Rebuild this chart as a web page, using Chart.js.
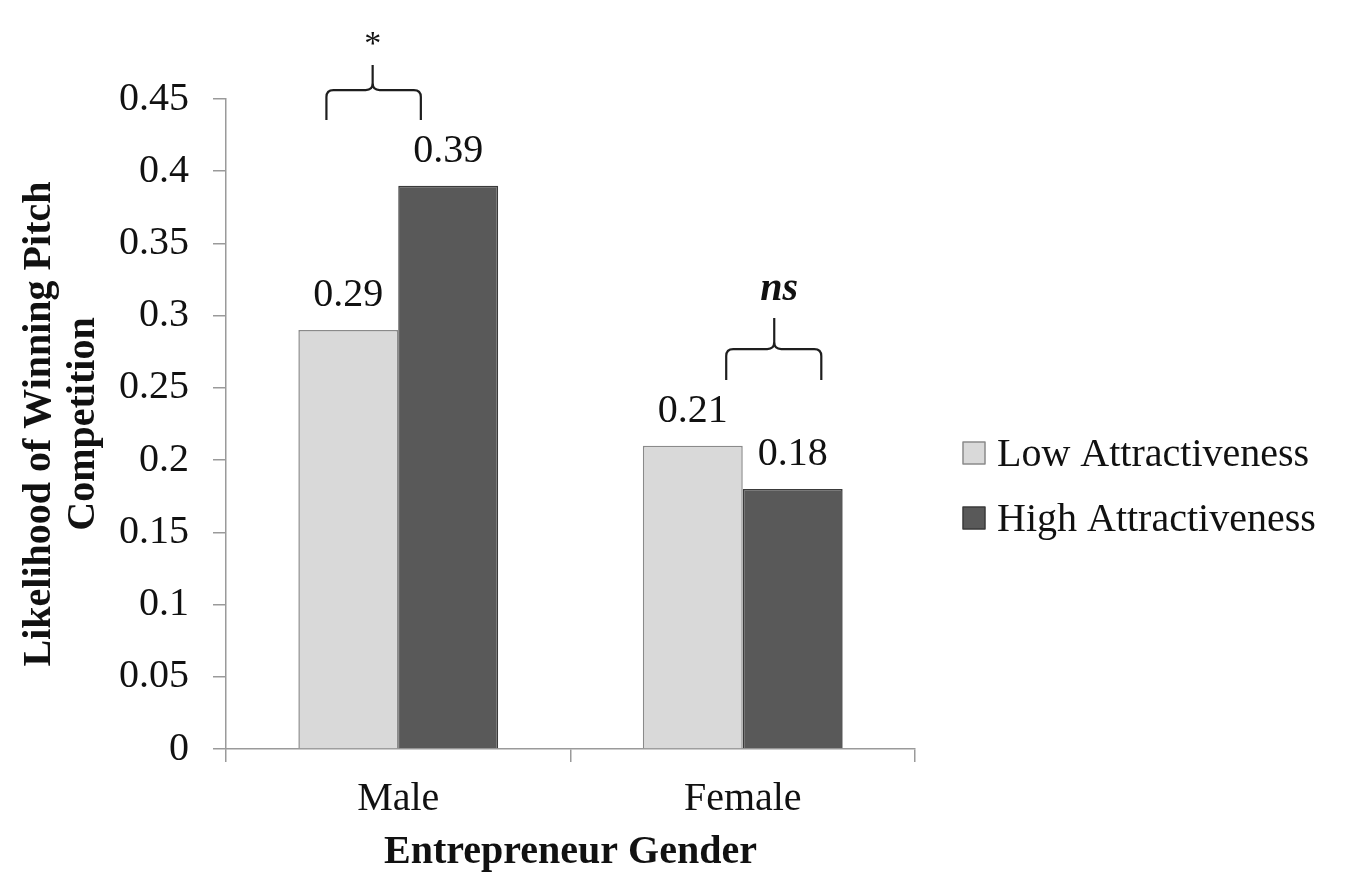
<!DOCTYPE html>
<html>
<head>
<meta charset="utf-8">
<script src="https://cdn.jsdelivr.net/npm/chart.js@4.4.1/dist/chart.umd.min.js"></script>
<style>
  html, body { margin: 0; padding: 0; background: #ffffff; }
  #wrap { width: 1345px; height: 894px; }
</style>
</head>
<body>
<div id="wrap"><canvas id="c" width="1345" height="894"></canvas></div>
<script>
// ---------- data ----------
const categories = ['Male', 'Female'];
const seriesNames = ['Low Attractiveness', 'High Attractiveness'];
const lowValues = [0.29, 0.21];
const highValues = [0.39, 0.18];
const yTickLabels = ['0', '0.05', '0.1', '0.15', '0.2', '0.25', '0.3', '0.35', '0.4', '0.45'];
const significanceLabels = ['*', 'ns'];
const xTitle = 'Entrepreneur Gender';
const yTitle = ['Likelihood of Winning Pitch', 'Competition'];

// ---------- layout / style ----------
const FONT = '"Liberation Serif", "Times New Roman", serif';
const W = 1345, H = 894;
const PLOT_TOP = 99, PLOT_LEFT = 226, PLOT_RIGHT = 915, PLOT_BOTTOM = 749;
const AXIS_COLOR = '#9a9a9a';
const legendLayout = { x: 963, y0: 453, rowGap: 65, box: 22, textGap: 12, size: 40 };

// brace geometry: x as offsets from category centre (fraction of category width), y in value units
const braceLayout = [
  { x1: -0.2085, x2: 0.0656, xm: -0.0743, yb: 0.4355, yh: 0.4562, yp: 0.4735, ty: 0.4812, dx: 0, font: '34px ' + FONT },
  { x1: -0.048,  x2: 0.228,  xm: 0.0914,  yb: 0.2555, yh: 0.2769, yp: 0.2984, ty: 0.3109, dx: 5, font: 'italic bold 40px ' + FONT }
];

Chart.defaults.font.family = FONT;
Chart.defaults.color = '#111';

const annotations = {
  id: 'annotations',
  afterDatasetsDraw(chart) {
    const ctx = chart.ctx;
    const xs = chart.scales.x, ys = chart.scales.y;
    const catW = xs.width / categories.length;
    ctx.save();
    // value labels
    ctx.font = '40px ' + FONT;
    ctx.fillStyle = '#111';
    ctx.textAlign = 'center';
    ctx.textBaseline = 'alphabetic';
    chart.data.datasets.forEach((ds, di) => {
      chart.getDatasetMeta(di).data.forEach((bar, i) => {
        ctx.fillText(String(ds.data[i]), bar.x, bar.y - 24);
      });
    });
    // braces + significance marks
    ctx.strokeStyle = '#1e1e1e';
    ctx.lineWidth = 2.2;
    ctx.lineJoin = 'round';
    braceLayout.forEach((b, i) => {
      const c = xs.getPixelForValue(i);
      const x1 = c + b.x1 * catW, x2 = c + b.x2 * catW, xm = c + b.xm * catW;
      const yb = ys.getPixelForValue(b.yb), yh = ys.getPixelForValue(b.yh), yp = ys.getPixelForValue(b.yp);
      const r = 7;
      ctx.beginPath();
      ctx.moveTo(x1, yb);
      ctx.lineTo(x1, yh + r);
      ctx.quadraticCurveTo(x1, yh, x1 + r, yh);
      ctx.lineTo(xm - r, yh);
      ctx.quadraticCurveTo(xm, yh, xm, yh - r);
      ctx.lineTo(xm, yp);
      ctx.moveTo(x2, yb);
      ctx.lineTo(x2, yh + r);
      ctx.quadraticCurveTo(x2, yh, x2 - r, yh);
      ctx.lineTo(xm + r, yh);
      ctx.quadraticCurveTo(xm, yh, xm, yh - r);
      ctx.stroke();
      ctx.font = b.font;
      ctx.fillText(significanceLabels[i], xm + b.dx, ys.getPixelForValue(b.ty));
    });
    // legend (from the datasets)
    const L = legendLayout;
    ctx.font = L.size + 'px ' + FONT;
    ctx.textAlign = 'left';
    ctx.textBaseline = 'middle';
    chart.data.datasets.forEach((ds, di) => {
      const cy = L.y0 + di * L.rowGap;
      ctx.fillStyle = ds.backgroundColor;
      ctx.fillRect(L.x, cy - L.box / 2, L.box, L.box);
      ctx.strokeStyle = ds.borderColor;
      ctx.lineWidth = 1.5;
      ctx.strokeRect(L.x, cy - L.box / 2, L.box, L.box);
      ctx.fillStyle = '#111';
      ctx.fillText(ds.label, L.x + L.box + L.textGap, cy + 2);
    });
    ctx.restore();
  }
};

new Chart(document.getElementById('c'), {
  type: 'bar',
  data: {
    labels: categories,
    datasets: [
      { label: seriesNames[0], data: lowValues, backgroundColor: '#d9d9d9', borderColor: '#8a8a8a', borderWidth: 1.5 },
      { label: seriesNames[1], data: highValues, backgroundColor: '#595959', borderColor: '#3a3a3a', borderWidth: 1.5 }
    ]
  },
  options: {
    responsive: false,
    animation: false,
    devicePixelRatio: 1,
    categoryPercentage: 0.58,
    barPercentage: 1.0,
    layout: { padding: { top: PLOT_TOP, right: W - PLOT_RIGHT, bottom: 0, left: 0 } },
    plugins: {
      tooltip: { enabled: false },
      legend: { display: false }
    },
    scales: {
      x: {
        type: 'category',
        position: 'bottom',
        grid: { display: true, drawOnChartArea: false, drawTicks: true, tickLength: 13, color: AXIS_COLOR, lineWidth: 1.5 },
        border: { display: true, color: AXIS_COLOR, width: 1.5 },
        ticks: { color: '#111', padding: 13, font: { size: 40, family: FONT } },
        title: { display: true, text: xTitle, color: '#111', font: { size: 40, weight: 'bold', family: FONT, lineHeight: 1.2 }, padding: { top: 0, bottom: 17 } },
        afterFit: s => { s.height = H - PLOT_BOTTOM; }
      },
      y: {
        type: 'linear',
        position: 'left',
        min: 0,
        max: 0.45,
        grid: { display: true, drawOnChartArea: false, drawTicks: true, tickLength: 13, color: AXIS_COLOR, lineWidth: 1.5 },
        border: { display: true, color: AXIS_COLOR, width: 1.5 },
        ticks: {
          stepSize: 0.05,
          color: '#111',
          padding: 24,
          font: { size: 40, family: FONT },
          callback: (v, i) => yTickLabels[i] ?? ''
        },
        title: { display: true, text: yTitle, color: '#111', font: { size: 40, weight: 'bold', family: FONT, lineHeight: 1.1 }, padding: { top: 18, bottom: 0 } },
        afterFit: s => { s.width = PLOT_LEFT; }
      }
    }
  },
  plugins: [annotations]
});
</script>
</body>
</html>
